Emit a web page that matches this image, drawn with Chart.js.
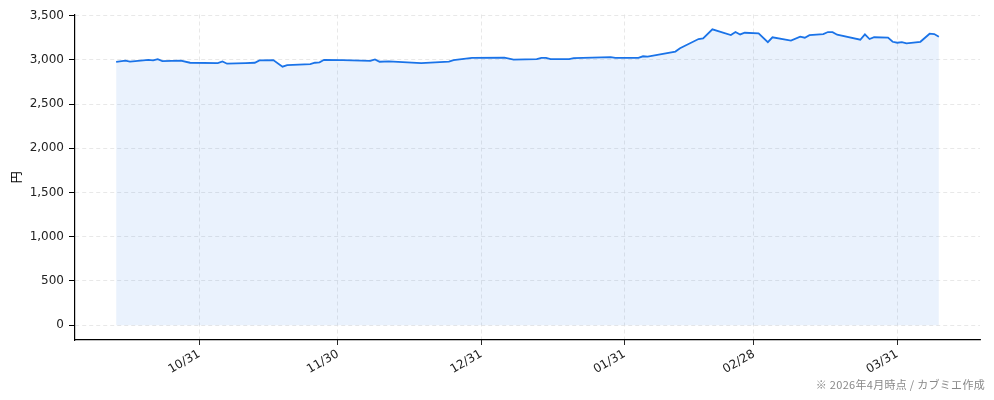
<!DOCTYPE html>
<html>
<head>
<meta charset="utf-8">
<script src="https://cdn.jsdelivr.net/npm/chart.js@4.4.1/dist/chart.umd.min.js"></script>
<style>
  html, body { margin: 0; padding: 0; background: #fff; }
  #wrap { position: relative; width: 994px; height: 400px; }
  #note { position: absolute; right: 9px; top: 376px; font: 11px "Noto Sans CJK JP", sans-serif; color: #888; white-space: nowrap; letter-spacing: 0.3px; }
</style>
</head>
<body>
<div id="wrap">
  <canvas id="price_chart" width="994" height="400"></canvas>
  <div id="note">※ 2026年4月時点 / カブミエ作成</div>
</div>
<script>
// daily close (円)
const dates = [
  '2025-10-13', '2025-10-15', '2025-10-16', '2025-10-20', '2025-10-21', '2025-10-22', '2025-10-23',
  '2025-10-27', '2025-10-29', '2025-11-04', '2025-11-05', '2025-11-06', '2025-11-10', '2025-11-12',
  '2025-11-13', '2025-11-16', '2025-11-18', '2025-11-19', '2025-11-24', '2025-11-25', '2025-11-26',
  '2025-11-27', '2025-12-01', '2025-12-07', '2025-12-08', '2025-12-09', '2025-12-11', '2025-12-18',
  '2025-12-24', '2025-12-25', '2025-12-29', '2026-01-05', '2026-01-07', '2026-01-12', '2026-01-13',
  '2026-01-14', '2026-01-15', '2026-01-19', '2026-01-20', '2026-01-28', '2026-01-29', '2026-02-03',
  '2026-02-04', '2026-02-05', '2026-02-11', '2026-02-12', '2026-02-16', '2026-02-17', '2026-02-19',
  '2026-02-23', '2026-02-24', '2026-02-25', '2026-02-26', '2026-03-01', '2026-03-03', '2026-03-04',
  '2026-03-08', '2026-03-10', '2026-03-11', '2026-03-12', '2026-03-15', '2026-03-16', '2026-03-17',
  '2026-03-18', '2026-03-23', '2026-03-24', '2026-03-25', '2026-03-26', '2026-03-29', '2026-03-30',
  '2026-03-31', '2026-04-01', '2026-04-02', '2026-04-05', '2026-04-07', '2026-04-08', '2026-04-09'
];
const prices = [
  2977, 2990, 2980, 3000, 2993, 3008, 2986,
  2990, 2967, 2963, 2982, 2956, 2963, 2967,
  2993, 2997, 2922, 2941, 2952, 2967, 2971,
  3000, 2997, 2988, 3005, 2978, 2982, 2963,
  2980, 2997, 3022, 3025, 3003, 3008, 3022,
  3022, 3008, 3008, 3020, 3030, 3022, 3022,
  3040, 3037, 3093, 3130, 3235, 3241, 3345,
  3280, 3314, 3287, 3306, 3300, 3200, 3255,
  3218, 3262, 3250, 3278, 3290, 3314, 3312,
  3284, 3227, 3287, 3235, 3255, 3252, 3204,
  3193, 3200, 3185, 3204, 3295, 3291, 3260
];
const tickDates = ['2025-10-31', '2025-11-30', '2025-12-31', '2026-01-31', '2026-02-28', '2026-03-31'];
const tickLabels = ['10/31', '11/30', '12/31', '01/31', '02/28', '03/31'];
const yTicks = [0, 500, 1000, 1500, 2000, 2500, 3000, 3500];

function dayNum(s) {
  const [y, m, d] = s.split('-').map(Number);
  return Date.UTC(y, m - 1, d) / 86400000;
}

const xs = dates.map(dayNum);
const tickDays = tickDates.map(dayNum);
const points = xs.map((x, i) => ({ x: x, y: prices[i] }));
const xPad = (xs[xs.length - 1] - xs[0]) * 0.05;
const yPad = Math.max(...prices) * 0.05;

const FONT = 'DejaVu Sans';

const config = {
  type: 'line',
  data: {
    datasets: [
      {
        label: '株価',
        data: points,
        borderColor: '#1a73e8',
        borderWidth: 1.8,
        backgroundColor: 'rgba(26, 115, 232, 0.09)',
        fill: 'origin',
        pointRadius: 0,
        tension: 0
      }
    ]
  },
  options: {
    responsive: false,
    animation: false,
    devicePixelRatio: 1,
    layout: { padding: { top: 14.5, right: 14, left: 0, bottom: 0 } },
    plugins: {
      legend: { display: false },
      tooltip: { enabled: false }
    },
    scales: {
      x: {
        type: 'linear',
        min: xs[0] - xPad,
        max: xs[xs.length - 1] + xPad,
        afterBuildTicks: (scale) => {
          scale.ticks = tickDays.map((v) => ({ value: v }));
        },
        afterFit: (scale) => { scale.height = 60; },
        ticks: {
          autoSkip: false,
          minRotation: 30,
          maxRotation: 30,
          padding: 2,
          color: '#222',
          font: { family: FONT, size: 12 },
          callback: (value) => {
            const i = tickDays.indexOf(value);
            return i >= 0 ? tickLabels[i] : '';
          }
        },
        grid: {
          color: '#e2e2e2',
          lineWidth: 0.8,
          tickColor: '#000',
          tickLength: 5,
          tickWidth: 1,
          tickBorderDash: [1, 0]
        },
        border: { display: true, color: '#000', width: 1.2, dash: [4, 3] }
      },
      y: {
        min: -yPad,
        max: Math.max(...prices) + yPad,
        afterBuildTicks: (scale) => {
          scale.ticks = yTicks.map((v) => ({ value: v }));
        },
        afterFit: (scale) => { scale.width = 75; },
        title: {
          display: true,
          text: '円',
          color: '#000',
          font: { family: 'Noto Sans CJK JP', size: 12 },
          padding: { top: 9, bottom: 0 }
        },
        ticks: {
          padding: 5,
          color: '#222',
          font: { family: FONT, size: 12 },
          callback: (value) => value.toLocaleString('en-US')
        },
        grid: {
          color: '#e2e2e2',
          lineWidth: 0.8,
          tickColor: '#000',
          tickLength: 6,
          tickWidth: 1,
          tickBorderDash: [1, 0]
        },
        border: { display: true, color: '#000', width: 1.2, dash: [4, 3] }
      }
    }
  }
};

document.addEventListener('DOMContentLoaded', () => {
  const priceChart = new Chart(document.getElementById('price_chart').getContext('2d'), config);
});
</script>
</body>
</html>
